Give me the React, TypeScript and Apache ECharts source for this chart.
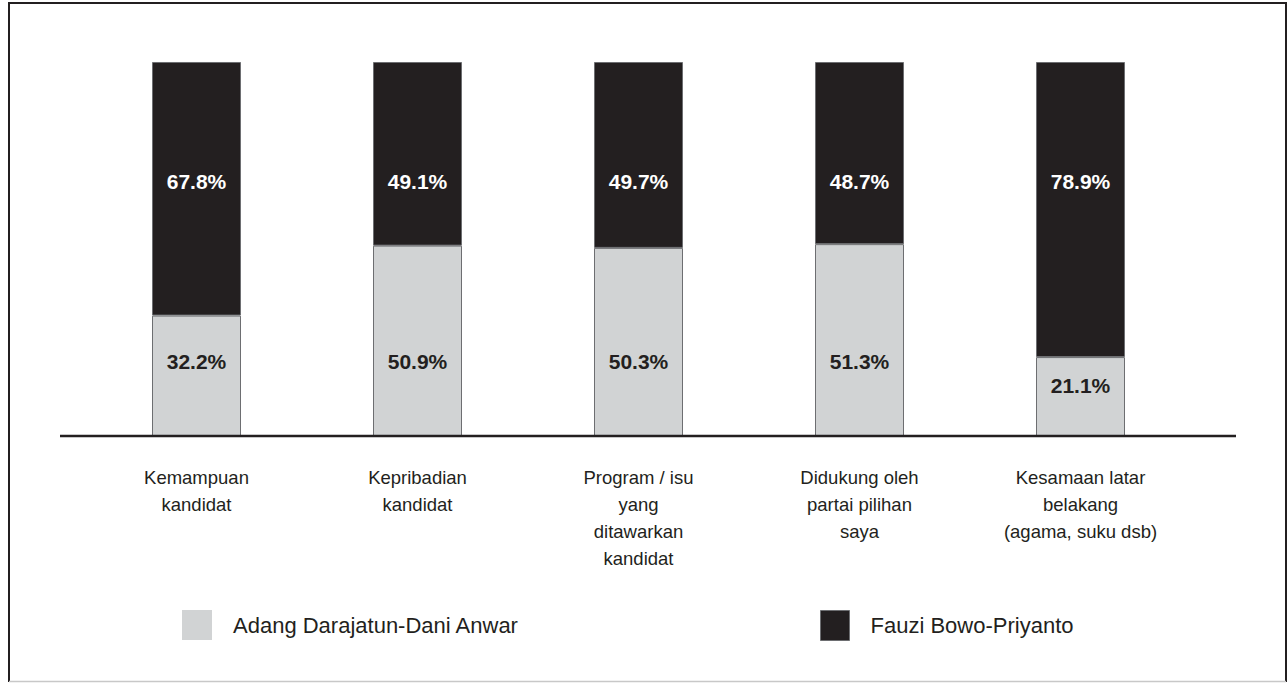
import React, { useEffect, useRef } from "react";
import * as echarts from "echarts";

const categories = [
  "Kemampuan\nkandidat",
  "Kepribadian\nkandidat",
  "Program / isu\nyang\nditawarkan\nkandidat",
  "Didukung oleh\npartai pilihan\nsaya",
  "Kesamaan latar\nbelakang\n(agama, suku dsb)",
];
const seriesNames = ["Adang Darajatun-Dani Anwar", "Fauzi Bowo-Priyanto"];
const adangValues = [32.2, 50.9, 50.3, 51.3, 21.1];
const fauziValues = [67.8, 49.1, 49.7, 48.7, 78.9];

const FONT = "'Liberation Sans', Arial, sans-serif";
const DARK = "#231f20";
const GRAY = "#d1d3d4";
const GRID_TOP = 62;
const GRID_BOTTOM_Y = 436;
const GRID_H = GRID_BOTTOM_Y - GRID_TOP;

export default function App() {
  const ref = useRef<HTMLDivElement>(null);
  useEffect(() => {
    if (!ref.current) return;
    const chart = echarts.init(ref.current, null, { renderer: "svg" });
    const labelBase = {
      show: true,
      fontFamily: FONT,
      fontWeight: "bold",
      fontSize: 21,
      align: "center",
      verticalAlign: "middle",
      formatter: (p: any) => `${Number(p.value).toFixed(1)}%`,
    };
    chart.setOption({
      animation: false,
      backgroundColor: "#ffffff",
      textStyle: { fontFamily: FONT },
      grid: { left: 86, right: 97, top: GRID_TOP, bottom: 683 - GRID_BOTTOM_Y },
      legend: [
        {
          data: [seriesNames[0]],
          left: 177,
          top: 605,
          itemWidth: 30,
          itemHeight: 30,
          icon: "rect",
          itemStyle: { borderWidth: 0 },
          textStyle: { fontFamily: FONT, fontSize: 22, color: DARK, padding: [0, 0, 0, 16] },
          selectedMode: false,
        },
        {
          data: [seriesNames[1]],
          left: 815,
          top: 605,
          itemWidth: 29,
          itemHeight: 30,
          icon: "rect",
          itemStyle: { borderWidth: 1, borderColor: "#6d6e71" },
          textStyle: { fontFamily: FONT, fontSize: 22, color: DARK, padding: [0, 0, 0, 16] },
          selectedMode: false,
        },
      ],
      xAxis: {
        type: "category",
        data: categories,
        axisLine: { show: false },
        axisTick: { show: false },
        axisLabel: {
          interval: 0,
          margin: 28,
          fontFamily: FONT,
          fontSize: 18.5,
          lineHeight: 27,
          color: DARK,
          align: "center",
        },
      },
      yAxis: { type: "value", min: 0, max: 100, show: false, splitLine: { show: false } },
      series: [
        {
          name: seriesNames[0],
          type: "bar",
          stack: "total",
          barWidth: 89,
          itemStyle: { color: GRAY, borderColor: "#6d6e71", borderWidth: 1 },
          label: { ...labelBase, color: DARK },
          data: adangValues.map((v) => {
            const h = (v / 100) * GRID_H;
            const y = Math.max(h - 75, h * 0.36);
            return { value: v, label: { position: ["50%", y] } };
          }),
        },
        {
          name: seriesNames[1],
          type: "bar",
          stack: "total",
          barWidth: 89,
          itemStyle: { color: DARK, borderColor: "#6d6e71", borderWidth: 1 },
          label: { ...labelBase, color: "#ffffff", position: ["50%", 119] },
          data: fauziValues,
        },
      ],
      graphic: [
        {
          type: "line",
          shape: { x1: 60, y1: GRID_BOTTOM_Y, x2: 1236, y2: GRID_BOTTOM_Y },
          style: { stroke: DARK, lineWidth: 2.5 },
          z: 10,
        },
        {
          type: "polyline",
          shape: { points: [[9, 682], [9, 3], [1286, 3], [1286, 682]] },
          style: { stroke: DARK, lineWidth: 2, fill: null },
        },
        {
          type: "line",
          shape: { x1: 9, y1: 681.5, x2: 1286, y2: 681.5 },
          style: { stroke: "#c8c8c8", lineWidth: 1.5 },
        },
      ],
    });
    return () => chart.dispose();
  }, []);
  return (
    <div
      ref={ref}
      style={{ position: "fixed", left: 0, top: 0, width: 1288, height: 683, background: "#fff" }}
    />
  );
}
